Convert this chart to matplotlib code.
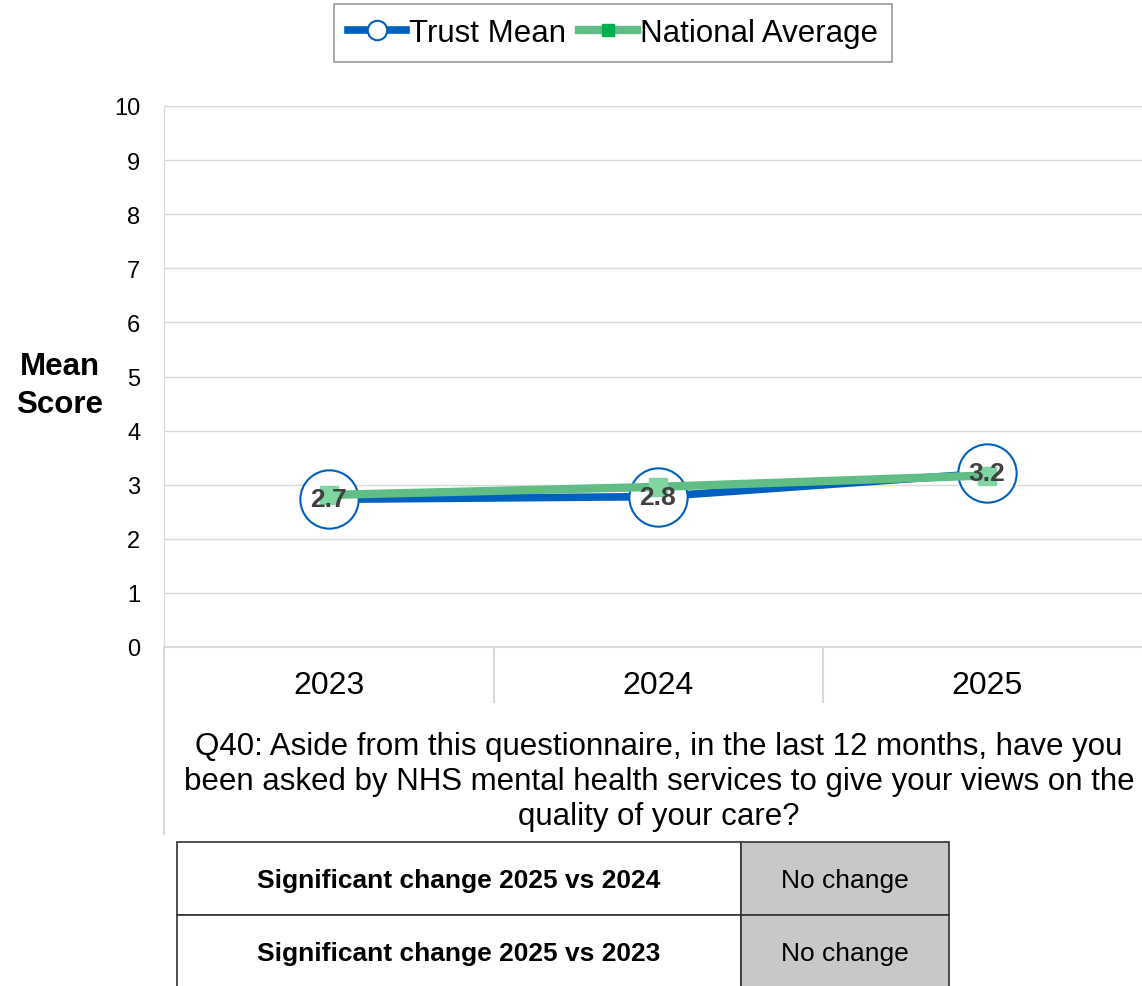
import matplotlib
matplotlib.use("Agg")
import matplotlib.pyplot as plt
from matplotlib.lines import Line2D
from matplotlib.patches import Rectangle

plt.rcParams["font.family"] = ["Liberation Sans", "DejaVu Sans"]

W, H = 1142, 987

years = ["2023", "2024", "2025"]
trust_mean = [2.73, 2.78, 3.21]
trust_labels = ["2.7", "2.8", "3.2"]
national_avg = [2.81, 2.96, 3.17]
question = ("Q40: Aside from this questionnaire, in the last 12 months, have you\n"
            "been asked by NHS mental health services to give your views on the\n"
            "quality of your care?")
table_rows = ["Significant change 2025 vs 2024", "Significant change 2025 vs 2023"]
table_vals = ["No change", "No change"]

BLUE = "#0060BF"
GREEN = "#5FBD85"
GREEN_MK = "#80D5A2"
GRID = "#D9D9D9"


def fx(px):
    return px / W


def fy(py):
    return 1 - py / H


fig = plt.figure(figsize=(W / 100, H / 100), dpi=100)
# plot area: x 164..1151 px, y 107..648 px
ax = fig.add_axes([fx(164), fy(648), fx(1151 - 164), (648 - 107) / H])

x = range(len(years))
ax.plot(x, trust_mean, color=BLUE, lw=5.5, marker="o", ms=42, mfc="white",
        mec=BLUE, mew=1.5, zorder=3, label="Trust Mean")
ax.plot(x, national_avg, color=GREEN, lw=6, marker="s", ms=13, mfc=GREEN_MK,
        mec=GREEN_MK, zorder=4, label="National Average")
for i, lab in enumerate(trust_labels):
    ax.text(i, trust_mean[i], lab, ha="center", va="center", fontsize=19,
            fontweight="bold", color="#404040", zorder=5)

ax.set_xlim(-0.5, len(years) - 0.5)
ax.set_ylim(0, 10)
ax.set_yticks(range(0, 11))
ax.tick_params(axis="y", length=0, labelsize=17, pad=17)
ax.set_xticks([])
ax.grid(axis="y", color=GRID, lw=1)
ax.set_axisbelow(True)
for s in ["top", "right"]:
    ax.spines[s].set_visible(False)
ax.spines["left"].set_color(GRID)
ax.spines["bottom"].set_color(GRID)
ax.spines["bottom"].set_linewidth(1.5)

# category labels and separators below the axis
for i, yr in enumerate(years):
    fig.text(fx(164 + 329 * i + 165), fy(686), yr, ha="center", va="center",
             fontsize=23)
for px in [494, 823]:
    fig.add_artist(Line2D([fx(px), fx(px)], [fy(648), fy(703)], color=GRID, lw=1.5))
fig.add_artist(Line2D([fx(164), fx(164)], [fy(648), fy(835)], color=GRID, lw=1.5))

fig.text(fx(60), fy(386), "Mean\nScore", ha="center", va="center", fontsize=22.5,
         fontweight="bold", linespacing=1.35)

fig.text(fx(659), fy(782), question, ha="center", va="center", fontsize=22.5,
         linespacing=1.22)

leg = fig.legend(loc="center", bbox_to_anchor=(fx(613), fy(34)), ncol=2,
                 fontsize=22.5, frameon=True, fancybox=False, edgecolor="#808080",
                 handlelength=1.85, handletextpad=0.1, columnspacing=0.4,
                 borderpad=0.45, markerscale=0.4)
leg.get_frame().set_linewidth(1.2)
hs = leg.legend_handles
hs[0].set_markersize(14)
hs[1].set_markersize(9)
hs[1].set_markerfacecolor("#00B050")
hs[1].set_markeredgecolor("#00B050")

# significance table
row_h = 73
x0, x1, x2 = 177, 741, 949
for r, (lab, val) in enumerate(zip(table_rows, table_vals)):
    top = 843 + r * row_h
    fig.add_artist(Rectangle((fx(x0), fy(top + row_h)), fx(x1 - x0), row_h / H,
                             facecolor="white", edgecolor="#333333", lw=1.2))
    fig.add_artist(Rectangle((fx(x1), fy(top + row_h)), fx(x2 - x1), row_h / H,
                             facecolor="#C8C8C8", edgecolor="#333333", lw=1.2))
    fig.text(fx((x0 + x1) / 2), fy(top + row_h / 2 + 2), lab, ha="center",
             va="center", fontsize=19, fontweight="bold")
    fig.text(fx((x1 + x2) / 2), fy(top + row_h / 2 + 2), val, ha="center",
             va="center", fontsize=19)

fig.savefig("out.png", dpi=100)
